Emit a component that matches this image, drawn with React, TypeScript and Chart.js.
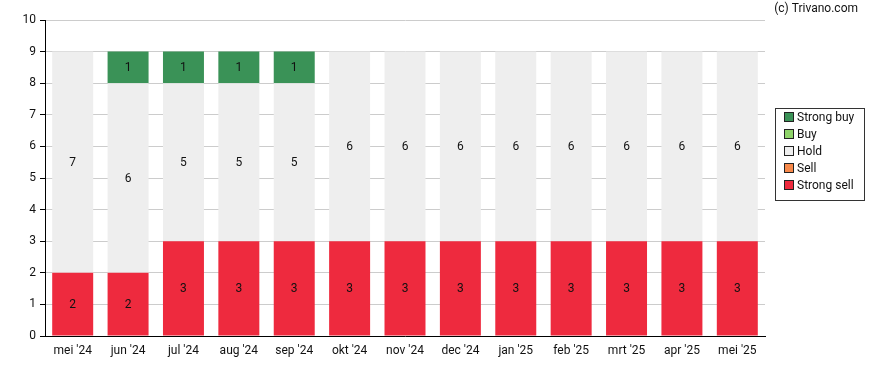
import React, { useEffect, useRef } from "react";
import { Chart, registerables } from "chart.js";

Chart.register(...registerables);

const months = ["mei '24", "jun '24", "jul '24", "aug '24", "sep '24", "okt '24", "nov '24", "dec '24", "jan '25", "feb '25", "mrt '25", "apr '25", "mei '25"];
const strongSell = [2, 2, 3, 3, 3, 3, 3, 3, 3, 3, 3, 3, 3];
const sell = [0, 0, 0, 0, 0, 0, 0, 0, 0, 0, 0, 0, 0];
const hold = [7, 6, 5, 5, 5, 6, 6, 6, 6, 6, 6, 6, 6];
const buy = [0, 0, 0, 0, 0, 0, 0, 0, 0, 0, 0, 0, 0];
const strongBuy = [0, 1, 1, 1, 1, 0, 0, 0, 0, 0, 0, 0, 0];
const yTicks = [0, 1, 2, 3, 4, 5, 6, 7, 8, 9, 10];
const credit = "(c) Trivano.com";

const FONT = "Roboto, 'Noto Sans', sans-serif";

const labelPlugin = {
  id: "segLabels",
  afterDatasetsDraw(chart: any) {
    const ctx = chart.ctx;
    ctx.save();
    ctx.font = `12px ${FONT}`;
    ctx.fillStyle = "#111";
    ctx.textAlign = "center";
    ctx.textBaseline = "middle";
    chart.data.datasets.forEach((ds: any, di: number) => {
      const meta = chart.getDatasetMeta(di);
      meta.data.forEach((bar: any, i: number) => {
        const v = ds.data[i];
        if (!v) return;
        const y = (bar.y + bar.base) / 2;
        ctx.fillText(String(v), bar.x, y + 1);
      });
    });
    ctx.restore();
  },
};

const legendPlugin = {
  id: "boxLegend",
  afterDraw(chart: any) {
    const ctx = chart.ctx;
    ctx.save();
    const x0 = 775.5, y0 = 108.5, w = 89, h = 92;
    ctx.strokeStyle = "#333";
    ctx.lineWidth = 1;
    ctx.strokeRect(x0, y0, w, h);
    const items = [...chart.data.datasets].reverse();
    ctx.font = `12px ${FONT}`;
    ctx.textBaseline = "middle";
    ctx.textAlign = "left";
    items.forEach((ds: any, i: number) => {
      const cy = 117.5 + i * 17;
      ctx.fillStyle = ds.backgroundColor;
      ctx.fillRect(784.5, cy - 5, 9, 9);
      ctx.strokeStyle = "#222";
      ctx.strokeRect(784.5, cy - 5, 9, 9);
      ctx.fillStyle = "#111";
      ctx.fillText(ds.label, 797, cy);
    });
    ctx.fillStyle = "#111";
    ctx.textAlign = "right";
    ctx.textBaseline = "middle";
    ctx.fillText(credit, 858, 9);
    ctx.restore();
  },
};

export default function App() {
  const ref = useRef<HTMLCanvasElement>(null);
  useEffect(() => {
    const chart = new Chart(ref.current!, {
      type: "bar",
      data: {
        labels: months,
        datasets: [
          { label: "Strong sell", data: strongSell, backgroundColor: "#ee2a3e" },
          { label: "Sell", data: sell, backgroundColor: "#f7894a" },
          { label: "Hold", data: hold, backgroundColor: "#eeeeee" },
          { label: "Buy", data: buy, backgroundColor: "#8fd46a" },
          { label: "Strong buy", data: strongBuy, backgroundColor: "#3a9257" },
        ],
      },
      options: {
        animation: false,
        responsive: false,
        layout: { padding: { left: 0, right: 123, top: 20, bottom: 0 } },
        datasets: { bar: { categoryPercentage: 1, barPercentage: 0.74 } },
        plugins: { legend: { display: false }, tooltip: { enabled: false } },
        scales: {
          x: {
            stacked: true,
            grid: { display: false, drawTicks: false },
            border: { color: "#000", width: 1 },
            ticks: { color: "#111", font: { size: 12, family: FONT }, padding: 8, maxRotation: 0, autoSkip: false },
            afterFit: (s: any) => { s.height = 34; },
          },
          y: {
            stacked: true,
            min: 0,
            max: 10,
            afterBuildTicks: (s: any) => { s.ticks = yTicks.map((v) => ({ value: v })); },
            grid: { color: "#cccccc", tickColor: "#000", tickLength: 5 },
            border: { color: "#000", width: 1 },
            ticks: { color: "#111", font: { size: 12, family: FONT }, padding: 4 },
            afterFit: (s: any) => { s.width = 45; },
          },
        },
      },
      plugins: [labelPlugin, legendPlugin],
    });
    return () => chart.destroy();
  }, []);
  return (
    <div style={{ position: "fixed", left: 0, top: 0, width: 888, height: 370, background: "#fff" }}>
      <canvas ref={ref} width={888} height={370} />
    </div>
  );
}
